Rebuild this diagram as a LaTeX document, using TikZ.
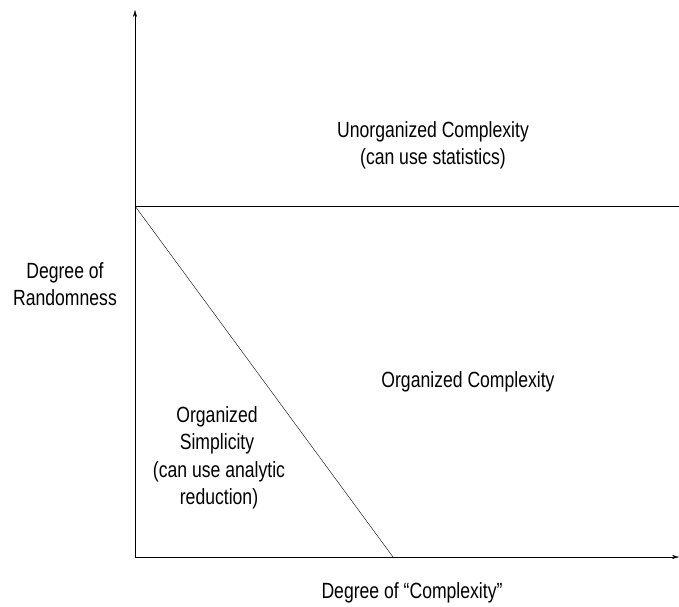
\documentclass[tikz,border=0pt]{standalone}
\usepackage{fontspec}
\setmainfont[FakeStretch=0.8]{Liberation Sans}
\usepackage{tikz}
\usetikzlibrary{arrows.meta,positioning}

\begin{document}
\begin{tikzpicture}[x=1pt, y=1pt, every node/.style={font=\fontsize{22}{27}\selectfont, align=center, inner sep=0pt}]
      \useasboundingbox (0,0) rectangle (679,606);
      \coordinate (o) at (135,49);
      \coordinate (top) at (135,596);
      \coordinate (right) at (679,49);
      \coordinate (l) at (135,400);
      \coordinate (r) at (679,400);
      \coordinate (d) at (393,49);

      \node (unorg) at (433,461) {Unorganized Complexity\\(can use statistics)};
      \node (rand) at (65,322) {Degree of\\Randomness};
      \node (org) at (468,224) {Organized Complexity};
      \node (simp) at (217,176) {Organized\\Simplicity};
      \node (anal) [below=7pt of simp, xshift=2pt] {(can use analytic\\reduction)};
      \node (cplx) at (412,13) {Degree of ``Complexity''};

      \draw[-{Stealth[length=7pt,width=4pt]}] (o) -- (top);
      \draw[-{Stealth[length=7pt,width=4pt]}] (o) -- (right);
      \draw (l) -- (r);
      \draw (l) -- (d);
    \end{tikzpicture}
\end{document}
